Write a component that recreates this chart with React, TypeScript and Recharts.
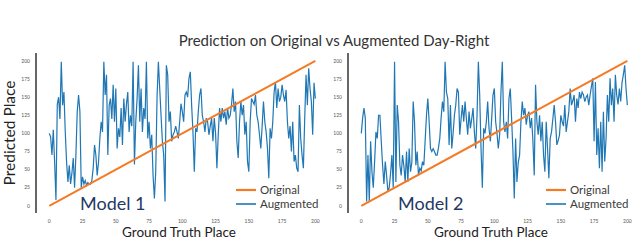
import { LineChart, Line, XAxis, YAxis, Legend } from "recharts";

// ground truth place = x position, 0..200
const groundTruth = Array.from({ length: 201 }, (_, i) => i);

const model1Augmented = [
  100, 95, 70, 105, 60, 8, 140, 150, 120, 199, 139, 157, 102, 60, 33, 56, 30, 45, 66, 25,
  70, 130, 153, 130, 25, 40, 30, 35, 28, 32, 30, 30, 35, 52, 84, 70, 42, 60, 93, 116,
  102, 199, 153, 181, 70, 139, 148, 120, 167, 116, 162, 79, 107, 95, 135, 84, 148, 116, 140, 157,
  102, 125, 110, 199, 57, 116, 148, 194, 116, 162, 102, 135, 120, 199, 93, 116, 79, 98, 42, 10,
  47, 150, 199, 162, 125, 89, 70, 6, 194, 181, 116, 130, 89, 98, 102, 110, 102, 93, 116, 141,
  130, 116, 153, 157, 150, 176, 185, 139, 102, 47, 107, 102, 130, 153, 162, 125, 116, 102, 121, 116,
  98, 110, 121, 89, 121, 100, 52, 98, 135, 116, 135, 121, 130, 112, 135, 121, 125, 140, 162, 130,
  144, 89, 66, 116, 144, 125, 139, 98, 116, 61, 47, 116, 148, 144, 140, 153, 125, 116, 98, 79,
  110, 144, 116, 102, 80, 38, 107, 93, 116, 157, 171, 135, 162, 144, 150, 167, 153, 144, 160, 116,
  93, 110, 75, 116, 61, 70, 52, 47, 139, 93, 70, 52, 120, 181, 139, 190, 162, 144, 98, 170,
  148,
];

const model2Augmented = [
  100, 121, 135, 121, 6, 70, 6, 89, 47, 25, 61, 102, 93, 125, 125, 89, 56, 30, 61, 42,
  20, 25, 45, 70, 25, 199, 33, 139, 116, 56, 42, 70, 55, 33, 75, 33, 79, 47, 60, 144,
  116, 56, 75, 42, 52, 48, 61, 56, 90, 125, 148, 116, 79, 75, 79, 75, 70, 70, 80, 93,
  121, 144, 130, 199, 157, 148, 84, 139, 79, 100, 125, 139, 162, 157, 98, 120, 139, 116, 144, 120,
  98, 130, 107, 120, 135, 102, 79, 125, 199, 153, 79, 25, 107, 100, 116, 144, 107, 89, 120, 153,
  162, 116, 100, 79, 98, 157, 199, 116, 102, 116, 93, 148, 162, 120, 75, 10, 93, 33, 60, 70,
  116, 144, 125, 135, 112, 125, 130, 107, 121, 90, 42, 167, 116, 98, 125, 89, 116, 70, 47, 116,
  79, 38, 93, 102, 120, 139, 116, 84, 90, 98, 125, 116, 110, 139, 102, 116, 130, 162, 139, 145,
  153, 116, 148, 135, 157, 148, 157, 153, 144, 150, 153, 139, 153, 165, 176, 89, 171, 70, 107, 52,
  116, 47, 130, 61, 93, 153, 116, 176, 139, 162, 116, 181, 153, 140, 162, 144, 170, 181, 194, 162,
  139,
];

// original predictions sit on the diagonal
const originalTruth = [0, 200];
const originalPred = [0, 200];

const placeTicks = [0, 25, 50, 75, 100, 125, 150, 175, 200];

const FONT = "Lato, 'Open Sans', sans-serif";
const BLUE = "#1f77b4";
const ORANGE = "#f57a24";

const legendItems = [
  { name: "Original", color: ORANGE, width: 2.2 },
  { name: "Augmented", color: BLUE, width: 1.6 },
];

function PlaceLegend() {
  return (
    <div style={{ fontFamily: FONT, fontSize: 11.5, color: "#3a3a3a" }}>
      {legendItems.map((item) => (
        <div key={item.name} style={{ display: "flex", alignItems: "center", height: 14 }}>
          <svg width={20} height={14}>
            <line x1={0} x2={20} y1={7} y2={7} stroke={item.color} strokeWidth={item.width} />
          </svg>
          <span style={{ marginLeft: 4, lineHeight: "14px" }}>{item.name}</span>
        </div>
      ))}
    </div>
  );
}

function PlaceChart({
  values,
  model,
  left,
  marginLeft,
  marginRight,
  showYLabel,
}: {
  values: number[];
  model: string;
  left: number;
  marginLeft: number;
  marginRight: number;
  showYLabel: boolean;
}) {
  const data = groundTruth.map((g, i) => ({ truth: g, augmented: values[i] }));
  const original = originalTruth.map((g, i) => ({ truth: g, original: originalPred[i] }));
  const tick = { fontSize: 5, fill: "#555", fontFamily: FONT };

  return (
    <div style={{ position: "absolute", left, top: 0, width: 330, height: 240 }}>
      <LineChart
        width={330}
        height={240}
        data={data}
        margin={{ top: 53, right: marginRight, bottom: 0, left: marginLeft }}
      >
        <XAxis
          dataKey="truth"
          type="number"
          domain={[-10, 205]}
          ticks={placeTicks}
          tick={tick}
          tickLine={false}
          axisLine={false}
          tickSize={0}
          tickMargin={6}
          height={27}
          label={{
            value: "Ground Truth Place",
            position: "insideBottom",
            offset: 3,
            style: { fontSize: 13.5, fill: "#222", fontFamily: FONT },
          }}
        />
        <XAxis
          xAxisId="top"
          orientation="top"
          type="number"
          domain={[-10, 205]}
          tick={false}
          tickLine={false}
          axisLine={{ stroke: "#e6e6e6" }}
          height={0}
        />
        <YAxis
          type="number"
          domain={[-10, 211]}
          ticks={placeTicks}
          tick={tick}
          tickLine={false}
          tickSize={0}
          tickMargin={6}
          width={30}
          axisLine={{ stroke: "#333", strokeWidth: 1.5 }}
          label={
            showYLabel
              ? {
                  value: "Predicted Place",
                  angle: -90,
                  position: "insideLeft",
                  offset: 3,
                  style: { textAnchor: "middle", fontSize: 15.5, fill: "#222", fontFamily: FONT },
                }
              : undefined
          }
        />
        <Line
          dataKey="augmented"
          type="linear"
          stroke={BLUE}
          strokeWidth={1.2}
          dot={false}
          isAnimationActive={false}
        />
        <Line
          data={original}
          dataKey="original"
          type="linear"
          stroke={ORANGE}
          strokeWidth={2}
          dot={false}
          isAnimationActive={false}
        />
        <Legend
          layout="horizontal"
          verticalAlign="middle"
          align="center"
          content={() => <PlaceLegend />}
          wrapperStyle={{ left: 236, top: 183, width: 90 }}
        />
      </LineChart>
      <div
        style={{
          position: "absolute",
          left: left === 0 ? 80 : 88,
          top: 193,
          fontFamily: FONT,
          fontSize: 18,
          lineHeight: "20px",
          color: "#1f3864",
          whiteSpace: "nowrap",
        }}
      >
        {model}
      </div>
    </div>
  );
}

export default function App() {
  return (
    <div style={{ position: "absolute", left: 0, top: 0, width: 640, height: 240, background: "#fff" }}>
      <div
        style={{
          position: "absolute",
          left: 334,
          top: 31,
          transform: "translateX(-50%)",
          fontFamily: FONT,
          fontSize: 15,
          color: "#333",
          whiteSpace: "nowrap",
        }}
      >
        Prediction on Original vs Augmented Day-Right
      </div>
      <PlaceChart values={model1Augmented} model="Model 1" left={0} marginLeft={6} marginRight={8} showYLabel />
      <PlaceChart values={model2Augmented} model="Model 2" left={310} marginLeft={8} marginRight={6} showYLabel={false} />
    </div>
  );
}
